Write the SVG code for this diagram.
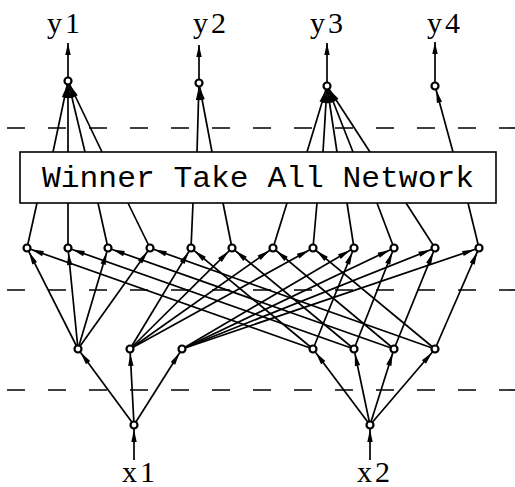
<svg xmlns="http://www.w3.org/2000/svg" width="515" height="487" viewBox="0 0 515 487">
<style>
.c line{stroke:#000;stroke-width:1.7;fill:none}
.a{marker-end:url(#in)}
.t{marker-end:url(#tip)}
.d line{stroke:#000;stroke-width:1.6;stroke-dasharray:18 23}
.n circle{fill:#fff;stroke:#000;stroke-width:2.2}
.lbl{font-family:"Liberation Serif","DejaVu Serif",serif;font-size:30px;letter-spacing:3px;fill:#000}
.box{fill:#fff;stroke:#000;stroke-width:1.6}
.bt{font-family:"Liberation Mono","DejaVu Sans Mono",monospace;font-size:29px;fill:#000}
</style>
<defs>
<marker id="in" viewBox="-18 -3 18 6" refX="0" refY="0" markerWidth="18" markerHeight="6" markerUnits="userSpaceOnUse" orient="auto"><path d="M-17,-2.7 L-4.5,0 L-17,2.7 z" fill="#000"/></marker>
<marker id="tip" viewBox="-13 -3 13 6" refX="0" refY="0" markerWidth="13" markerHeight="6" markerUnits="userSpaceOnUse" orient="auto"><path d="M-12,-2.7 L0,0 L-12,2.7 z" fill="#000"/></marker>
</defs>
<rect width="515" height="487" fill="#fff"/>
<g class="d" id="layers">
<line x1="7" y1="128" x2="515" y2="128"/>
<line x1="7" y1="290" x2="515" y2="290"/>
<line x1="7" y1="390" x2="515" y2="390"/>
</g>
<g class="c" id="connectors">
<line class="a" x1="134" y1="460" x2="134" y2="425"/>
<line class="a" x1="370" y1="460" x2="370" y2="425"/>
<line class="a" x1="134" y1="425" x2="78" y2="349"/>
<line class="a" x1="134" y1="425" x2="130" y2="349"/>
<line class="a" x1="134" y1="425" x2="182" y2="349"/>
<line class="a" x1="370" y1="425" x2="313" y2="349"/>
<line class="a" x1="370" y1="425" x2="354" y2="349"/>
<line class="a" x1="370" y1="425" x2="394" y2="349"/>
<line class="a" x1="370" y1="425" x2="435" y2="349"/>
<line class="a" x1="78" y1="349" x2="27" y2="248"/>
<line class="a" x1="78" y1="349" x2="68" y2="248"/>
<line class="a" x1="78" y1="349" x2="108" y2="248"/>
<line class="a" x1="78" y1="349" x2="150" y2="248"/>
<line class="a" x1="130" y1="349" x2="191" y2="248"/>
<line class="a" x1="130" y1="349" x2="232" y2="248"/>
<line class="a" x1="130" y1="349" x2="273" y2="248"/>
<line class="a" x1="130" y1="349" x2="313" y2="248"/>
<line class="a" x1="182" y1="349" x2="354" y2="248"/>
<line class="a" x1="182" y1="349" x2="394" y2="248"/>
<line class="a" x1="182" y1="349" x2="435" y2="248"/>
<line class="a" x1="182" y1="349" x2="479" y2="248"/>
<line class="a" x1="313" y1="349" x2="27" y2="248"/>
<line class="a" x1="313" y1="349" x2="191" y2="248"/>
<line class="a" x1="313" y1="349" x2="354" y2="248"/>
<line class="a" x1="354" y1="349" x2="68" y2="248"/>
<line class="a" x1="354" y1="349" x2="232" y2="248"/>
<line class="a" x1="354" y1="349" x2="394" y2="248"/>
<line class="a" x1="394" y1="349" x2="108" y2="248"/>
<line class="a" x1="394" y1="349" x2="273" y2="248"/>
<line class="a" x1="394" y1="349" x2="435" y2="248"/>
<line class="a" x1="435" y1="349" x2="150" y2="248"/>
<line class="a" x1="435" y1="349" x2="313" y2="248"/>
<line class="a" x1="435" y1="349" x2="479" y2="248"/>
<line x1="27" y1="248" x2="37" y2="203"/>
<line x1="68" y1="248" x2="68" y2="203"/>
<line x1="108" y1="248" x2="98" y2="203"/>
<line x1="150" y1="248" x2="128" y2="203"/>
<line x1="191" y1="248" x2="193" y2="203"/>
<line x1="232" y1="248" x2="223" y2="203"/>
<line x1="273" y1="248" x2="287" y2="203"/>
<line x1="313" y1="248" x2="317" y2="203"/>
<line x1="354" y1="248" x2="347" y2="203"/>
<line x1="394" y1="248" x2="377" y2="203"/>
<line x1="435" y1="248" x2="406" y2="203"/>
<line x1="479" y1="248" x2="468" y2="203"/>
<line class="a" x1="53" y1="152" x2="68" y2="81"/>
<line class="a" x1="68" y1="152" x2="68" y2="81"/>
<line class="a" x1="85" y1="152" x2="68" y2="81"/>
<line class="a" x1="102" y1="152" x2="68" y2="81"/>
<line class="a" x1="197" y1="152" x2="199" y2="83"/>
<line class="a" x1="212" y1="152" x2="199" y2="83"/>
<line class="a" x1="307" y1="152" x2="327" y2="86"/>
<line class="a" x1="323" y1="152" x2="327" y2="86"/>
<line class="a" x1="337" y1="152" x2="327" y2="86"/>
<line class="a" x1="353" y1="152" x2="327" y2="86"/>
<line class="a" x1="370" y1="152" x2="327" y2="86"/>
<line class="a" x1="453" y1="152" x2="435" y2="86"/>
<line class="t" x1="68" y1="77" x2="68" y2="43"/>
<line class="t" x1="199" y1="79" x2="199" y2="45"/>
<line class="t" x1="327" y1="82" x2="327" y2="43"/>
<line class="t" x1="435" y1="82" x2="435" y2="42"/>
</g>
<g id="wta">
<rect class="box" x="20" y="152" width="476" height="51"/>
<text class="bt" x="42" y="187" textLength="432" lengthAdjust="spacingAndGlyphs">Winner Take All Network</text>
</g>
<g class="n">
<g id="x1"><circle cx="134" cy="425" r="3.5"/><text class="lbl" x="122" y="482">x1</text></g>
<g id="x2"><circle cx="370" cy="425" r="3.5"/><text class="lbl" x="357" y="482">x2</text></g>
<g id="m1"><circle cx="78" cy="349" r="3.5"/></g>
<g id="m2"><circle cx="130" cy="349" r="3.5"/></g>
<g id="m3"><circle cx="182" cy="349" r="3.5"/></g>
<g id="m4"><circle cx="313" cy="349" r="3.5"/></g>
<g id="m5"><circle cx="354" cy="349" r="3.5"/></g>
<g id="m6"><circle cx="394" cy="349" r="3.5"/></g>
<g id="m7"><circle cx="435" cy="349" r="3.5"/></g>
<g id="h1"><circle cx="27" cy="248" r="3.5"/></g>
<g id="h2"><circle cx="68" cy="248" r="3.5"/></g>
<g id="h3"><circle cx="108" cy="248" r="3.5"/></g>
<g id="h4"><circle cx="150" cy="248" r="3.5"/></g>
<g id="h5"><circle cx="191" cy="248" r="3.5"/></g>
<g id="h6"><circle cx="232" cy="248" r="3.5"/></g>
<g id="h7"><circle cx="273" cy="248" r="3.5"/></g>
<g id="h8"><circle cx="313" cy="248" r="3.5"/></g>
<g id="h9"><circle cx="354" cy="248" r="3.5"/></g>
<g id="h10"><circle cx="394" cy="248" r="3.5"/></g>
<g id="h11"><circle cx="435" cy="248" r="3.5"/></g>
<g id="h12"><circle cx="479" cy="248" r="3.5"/></g>
<g id="y1"><circle cx="68" cy="81" r="3.5"/><text class="lbl" x="47" y="33">y1</text></g>
<g id="y2"><circle cx="199" cy="83" r="3.5"/><text class="lbl" x="193" y="33">y2</text></g>
<g id="y3"><circle cx="327" cy="86" r="3.5"/><text class="lbl" x="310" y="33">y3</text></g>
<g id="y4"><circle cx="435" cy="86" r="3.5"/><text class="lbl" x="427" y="33">y4</text></g>
</g>
</svg>
